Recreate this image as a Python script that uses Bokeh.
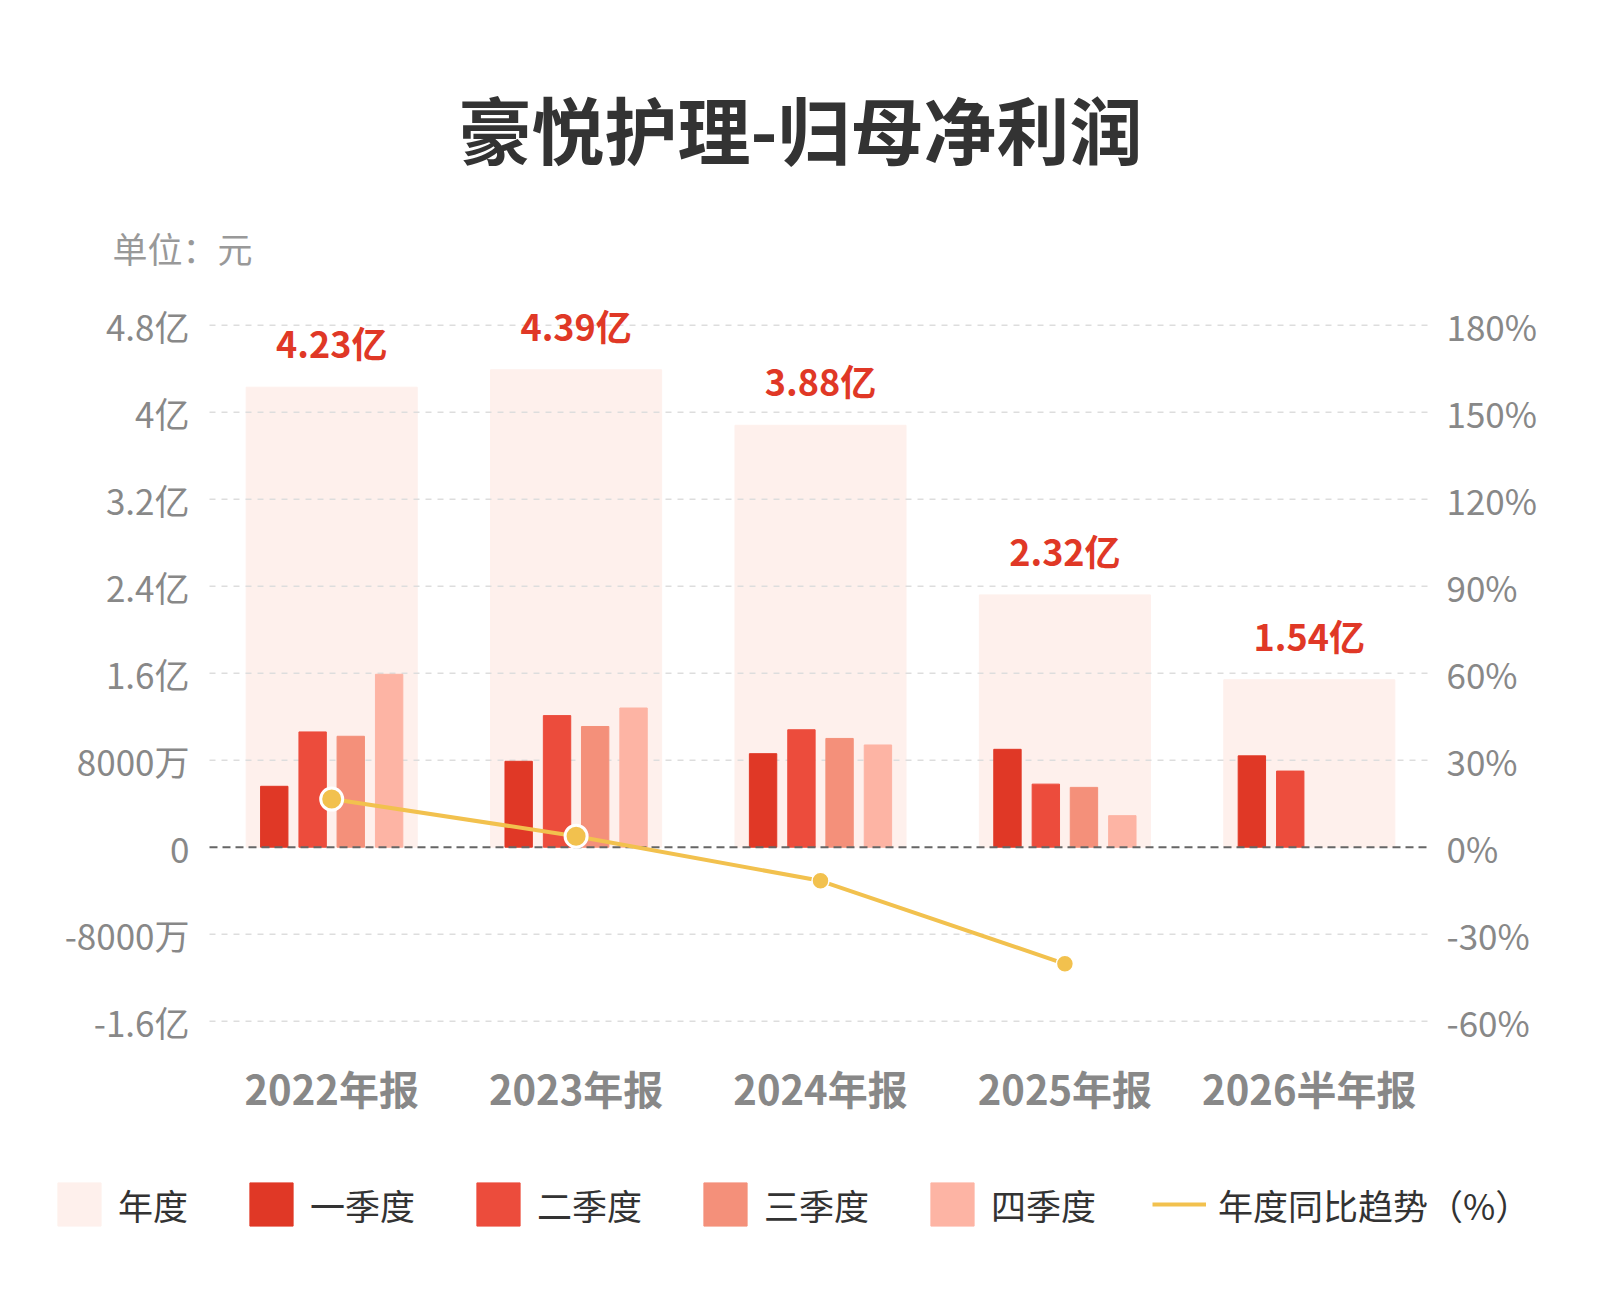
import numpy as np
from bokeh.plotting import figure
from bokeh.models import (ColumnDataSource, Range1d, LinearAxis, FixedTicker,
                          Label, Legend, LegendItem)
from bokeh.core.properties import value
from bokeh.embed import file_html
from bokeh.resources import INLINE

# data, in 亿元 and %
years = ["2022年报", "2023年报", "2024年报", "2025年报", "2026半年报"]
annual = [4.23, 4.39, 3.88, 2.32, 1.54]
q1 = [0.56, 0.79, 0.86, 0.90, 0.84]
q2 = [1.06, 1.21, 1.08, 0.58, 0.70]
q3 = [1.02, 1.11, 1.00, 0.55]
q4 = [1.59, 1.28, 0.94, 0.29]
yoy = [16.6, 3.8, -11.6, -40.2]

left_ticks = [-1.6, -0.8, 0, 0.8, 1.6, 2.4, 3.2, 4.0, 4.8]
left_labels = ["-1.6亿", "-8000万", "0", "8000万", "1.6亿", "2.4亿", "3.2亿", "4亿", "4.8亿"]
right_ticks = [-60, -30, 0, 30, 60, 90, 120, 150, 180]
quarter_names = ["一季度", "二季度", "三季度", "四季度"]

FONT = "Noto Sans CJK SC"
YEAR_COLOR = "#FEF0EC"
Q_COLORS = ["#E03826", "#EC4C3C", "#F4907A", "#FDB4A4"]
Q_OFFSETS = [-0.235, -0.078, 0.078, 0.235]
LINE_COLOR = "#F2C14E"

# canvas geometry: the frame covers the whole canvas, the chart area sits inside it
W, H = 1584, 1284
GROUP_PX, CHART_LEFT = 244.4, 209      # px per category, left edge of chart area
PX_PER_YI, ZERO_PX = 108.75, 846.7     # px per 亿, canvas y of zero
PCT = 37.5                              # 0.8亿 <-> 30%
X0 = -CHART_LEFT / GROUP_PX
Y1 = ZERO_PX / PX_PER_YI
Y0 = -(H - ZERO_PX) / PX_PER_YI
AXIS_Y = -(1048 - ZERO_PX) / PX_PER_YI  # bottom of chart area

n = len(years)
centers = [i + 0.5 for i in range(n)]

p = figure(width=W, height=H, x_range=Range1d(X0, X0 + W / GROUP_PX),
           y_range=Range1d(Y0, Y1), output_backend="svg", toolbar_location=None,
           min_border=0)
p.outline_line_color = None
p.background_fill_color = "white"
p.border_fill_color = "white"
p.grid.visible = False
p.extra_y_ranges = {"pct": Range1d(Y0 * PCT, Y1 * PCT)}

# yearly background bars
r_year = p.vbar(x=centers, top=annual, width=0.7, color=YEAR_COLOR)

# dashed grid over the background bars, under the quarter bars
grid_ticks = [t for t in left_ticks if t != 0]
p.segment(x0=[0] * len(grid_ticks), x1=[n] * len(grid_ticks), y0=grid_ticks, y1=grid_ticks,
          line_color="#dddddd", line_dash="6 6", line_width=1.5)

q_renderers = []
for vals, col, off in zip([q1, q2, q3, q4], Q_COLORS, Q_OFFSETS):
    r = p.vbar(x=[c + off for c in centers[:len(vals)]], top=vals, width=0.112, color=col)
    q_renderers.append(r)

# zero line
p.segment(x0=[0], x1=[n], y0=[0], y1=[0], line_color="#666666",
          line_dash="8 5", line_width=2)

# yearly totals
src = ColumnDataSource(dict(x=centers, y=annual, label=[f"{v:.2f}亿" for v in annual]))
p.text(x="x", y="y", text="label", source=src,
       text_font=value(FONT), text_font_size="36px", text_font_style="bold",
       text_color="#E03826", text_align="center", text_baseline="middle",
       y_offset=-45)

# yoy trend line
r_line = p.line(x=centers[:len(yoy)], y=yoy, y_range_name="pct",
                line_color=LINE_COLOR, line_width=4)
p.scatter(x=centers[:2], y=yoy[:2], y_range_name="pct", size=22,
          fill_color=LINE_COLOR, line_color="white", line_width=3)
p.scatter(x=centers[2:len(yoy)], y=yoy[2:], y_range_name="pct", size=17,
          fill_color=LINE_COLOR, line_color="white", line_width=1.5)

# axes pinned to the chart area
ya = p.yaxis[0]
ya.fixed_location = 0
ya.ticker = FixedTicker(ticks=left_ticks)
ya.major_label_overrides = dict(zip(left_ticks, left_labels))
ya.major_label_standoff = 20

yr = LinearAxis(y_range_name="pct", ticker=FixedTicker(ticks=right_ticks), fixed_location=n)
yr.major_label_overrides = {t: f"{t}%" for t in right_ticks}
yr.major_label_standoff = 15
p.add_layout(yr, "right")

xa = p.xaxis[0]
xa.fixed_location = AXIS_Y
xa.ticker = FixedTicker(ticks=centers)
xa.major_label_overrides = dict(zip(centers, years))
xa.major_label_text_font_size = "40px"
xa.major_label_text_font_style = "bold"
xa.major_label_standoff = 10

for ax in (ya, yr, xa):
    ax.axis_line_color = None
    ax.major_tick_line_color = None
    ax.minor_tick_line_color = None
    ax.major_tick_out = 0
    ax.minor_tick_out = 0
    ax.major_label_text_font = FONT
    ax.major_label_text_color = "#888888"
for ax in (ya, yr):
    ax.major_label_text_font_size = "35px"

# title and unit note
p.add_layout(Label(x=(800 - CHART_LEFT) / GROUP_PX, y=(ZERO_PX - 126) / PX_PER_YI,
                   text="豪悦护理-归母净利润", text_font=FONT, text_font_size="73px",
                   text_font_style="bold", text_color="#333333",
                   text_align="center", text_baseline="middle"))
p.add_layout(Label(x=(112 - CHART_LEFT) / GROUP_PX, y=(ZERO_PX - 247) / PX_PER_YI,
                   text="单位：元", text_font=FONT, text_font_size="35px",
                   text_color="#999999", text_align="left", text_baseline="middle"))

# legend row (bokeh insets area swatches by 10% of the glyph box)
labels = ["年度"] + quarter_names + ["年度同比趋势（%）"]
renderers = [r_year] + q_renderers + [r_line]
legend = Legend(items=[LegendItem(label=t, renderers=[r]) for t, r in zip(labels, renderers)],
                orientation="horizontal", location=(52, 53),
                glyph_width=54, glyph_height=54, spacing=56, label_standoff=12,
                padding=0, margin=0, border_line_alpha=0, background_fill_alpha=0,
                label_text_font=FONT, label_text_font_size="35px",
                label_text_color="#333333", label_height=54)
p.add_layout(legend)

open("out.html", "w").write(file_html(p, INLINE))
